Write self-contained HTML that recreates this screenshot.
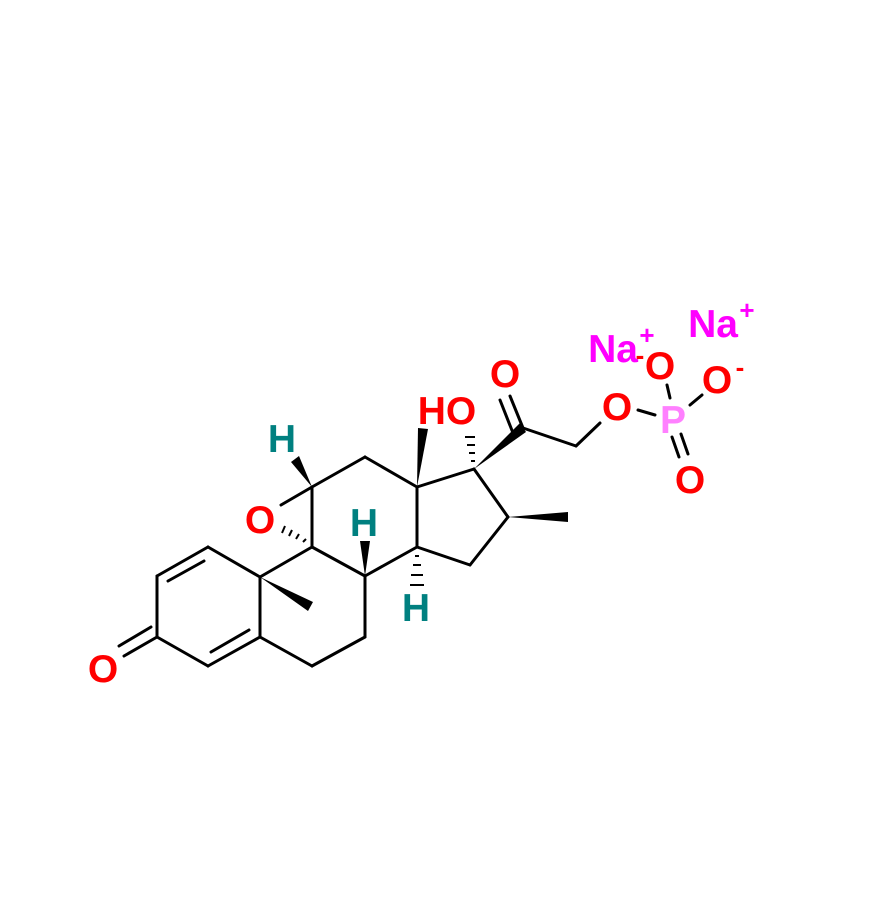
<!DOCTYPE html>
<html><head><style>body{margin:0;background:#fff}svg{display:block}</style></head><body>
<svg width="882" height="920" viewBox="0 0 882 920" xmlns="http://www.w3.org/2000/svg">
<g stroke="#000" stroke-width="3" fill="none" stroke-linecap="round">
<line x1="208" y1="547" x2="157" y2="576"/>
<line x1="204" y1="561" x2="168" y2="581"/>
<line x1="157" y1="576" x2="157" y2="637"/>
<line x1="157" y1="637" x2="208" y2="666"/>
<line x1="208" y1="666" x2="260" y2="637"/>
<line x1="211" y1="652" x2="249" y2="630"/>
<line x1="260" y1="637" x2="260" y2="577"/>
<line x1="260" y1="577" x2="208" y2="547"/>
<line x1="157" y1="637" x2="124" y2="656"/>
<line x1="151" y1="627" x2="119" y2="646"/>
<line x1="260" y1="577" x2="312" y2="547"/>
<line x1="312" y1="547" x2="365" y2="576"/>
<line x1="365" y1="576" x2="365" y2="637"/>
<line x1="365" y1="637" x2="312" y2="666"/>
<line x1="312" y1="666" x2="260" y2="637"/>
<line x1="312" y1="547" x2="312" y2="487"/>
<line x1="312" y1="487" x2="365" y2="457"/>
<line x1="365" y1="457" x2="417" y2="487"/>
<line x1="417" y1="487" x2="417" y2="547"/>
<line x1="417" y1="547" x2="365" y2="576"/>
<line x1="312" y1="487" x2="281" y2="505"/>
<line x1="417" y1="547" x2="470" y2="565"/>
<line x1="470" y1="565" x2="508" y2="517"/>
<line x1="508" y1="517" x2="474" y2="469"/>
<line x1="474" y1="469" x2="417" y2="487"/>
<line x1="523" y1="428" x2="576" y2="446"/>
<line x1="576" y1="446" x2="600" y2="423"/>
<line x1="523" y1="428" x2="510" y2="396"/>
<line x1="513" y1="433" x2="500" y2="400"/>
<line x1="638" y1="410" x2="655" y2="415"/>
<line x1="667" y1="385" x2="670" y2="398"/>
<line x1="690" y1="405" x2="702" y2="395"/>
<line x1="672" y1="437" x2="679" y2="457"/>
<line x1="681" y1="434" x2="688" y2="454"/>
</g>
<g fill="#000">
<polygon points="260,577 313,602 308,611"/>
<polygon points="312,487 291,462 299,456"/>
<polygon points="365,576 360,541 370,541"/>
<polygon points="417,487 418,428 428,429"/>
<polygon points="474,469 520,423 526,432"/>
<polygon points="508,517 568,512 568,522"/>
</g>
<g stroke="#000" stroke-width="2">
<line x1="303" y1="542" x2="306" y2="539"/><line x1="296" y1="539" x2="299" y2="534"/><line x1="289" y1="536" x2="292" y2="530"/><line x1="282" y1="533" x2="285" y2="526"/>
<line x1="415" y1="556" x2="419" y2="556"/><line x1="413" y1="565" x2="421" y2="565"/><line x1="411" y1="575" x2="423" y2="575"/><line x1="410" y1="585" x2="424" y2="585"/>
<line x1="471" y1="461" x2="475" y2="461"/><line x1="469" y1="453" x2="475" y2="453"/><line x1="467" y1="445" x2="475" y2="445"/><line x1="465" y1="437" x2="475" y2="437"/>
</g>
<g font-family="Liberation Sans, sans-serif" font-weight="bold" font-size="39" text-anchor="middle">
<text x="103" y="682" fill="#f00">O</text>
<text x="260" y="533" fill="#f00">O</text>
<text x="282" y="452" fill="#008080">H</text>
<text x="364" y="536" fill="#008080">H</text>
<text x="416" y="621" fill="#008080">H</text>
<text x="447" y="424" fill="#f00">HO</text>
<text x="505" y="387" fill="#f00">O</text>
<text x="617" y="420" fill="#f00">O</text>
<text x="673" y="433" fill="#ff80ff">P</text>
<text x="660" y="379" fill="#f00">O</text>
<text x="717" y="393" fill="#f00">O</text>
<text x="690" y="493" fill="#f00">O</text>
<text x="613" y="362" fill="#f0f">Na</text>
<text x="713" y="337" fill="#f0f">Na</text>
</g>
<g font-family="Liberation Sans, sans-serif" font-weight="bold" font-size="26" text-anchor="middle">
<text x="647" y="344" fill="#f0f">+</text>
<text x="747" y="319" fill="#f0f">+</text>
<text x="740" y="376" fill="#f00">-</text>
<text x="640" y="364" fill="#f00">-</text>
</g>
</svg>
</body></html>
